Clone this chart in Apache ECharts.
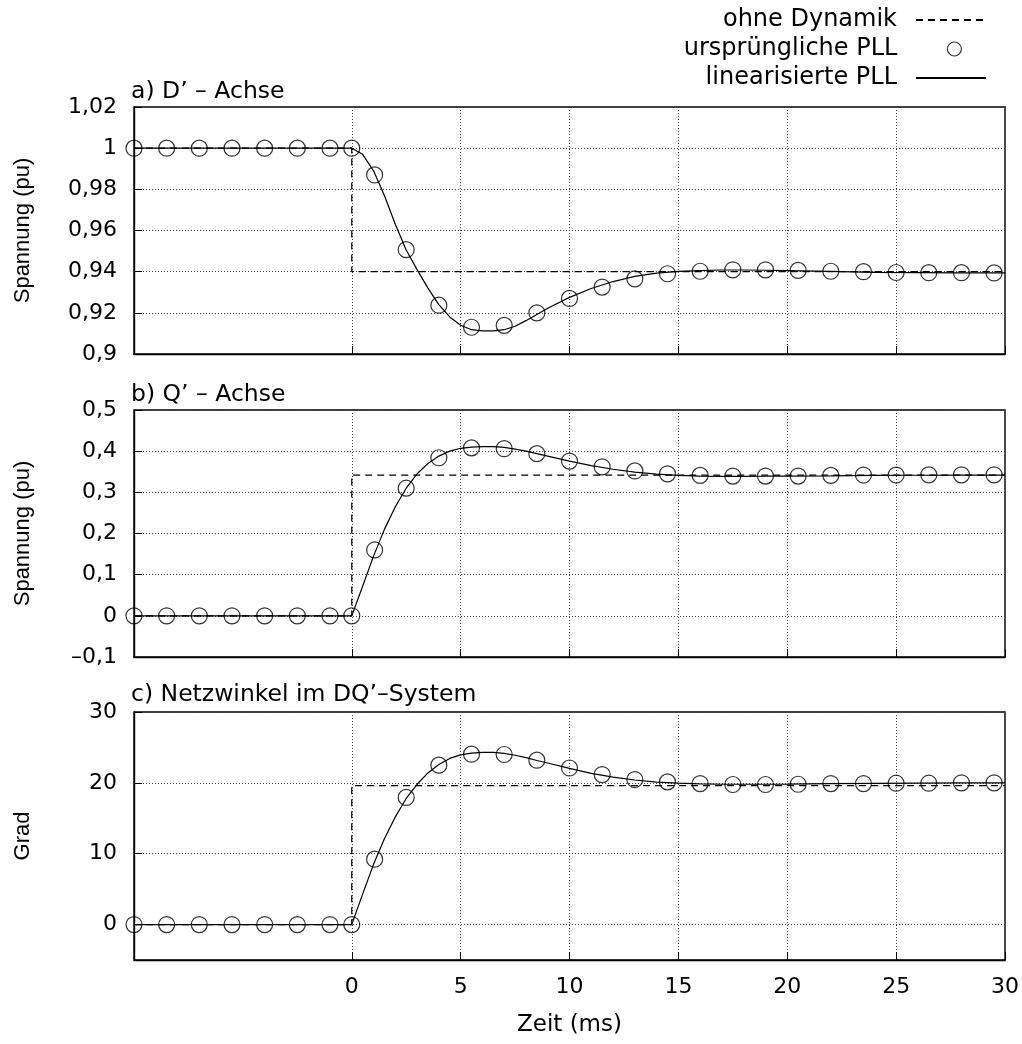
<!DOCTYPE html>
<html>
<head>
<meta charset="utf-8">
<script src="https://cdn.jsdelivr.net/npm/echarts@6/dist/echarts.min.js"></script>
<style>
html,body{margin:0;padding:0;background:#fff;}
#chart{width:1022px;height:1044px;}
</style>
</head>
<body>
<div id="chart"></div>
<script>
// ---------- data ----------
const seriesNames = ['ohne Dynamik', 'ursprüngliche PLL', 'linearisierte PLL'];
const panelTitles = ['a) D’ – Achse', 'b) Q’ – Achse', 'c) Netzwinkel im DQ’–System'];
const yAxisNames = ['Spannung (pu)', 'Spannung (pu)', 'Grad'];
const xAxisName = 'Zeit (ms)';

const xTicks = [0, 5, 10, 15, 20, 25, 30];
const dTicks = [0.9, 0.92, 0.94, 0.96, 0.98, 1, 1.02];
const qTicks = [-0.1, 0, 0.1, 0.2, 0.3, 0.4, 0.5];
const angleTicks = [0, 10, 20, 30];

// "ohne Dynamik" (step)
const timeStep = [-10, 0, 0, 30];
const dStep = [1, 1, 0.94, 0.94];
const qStep = [0, 0, 0.342, 0.342];
const angleStep = [0, 0, 19.6, 19.6];

// "ursprüngliche PLL" (circles)
const timeCircles = [-10, -8.5, -7, -5.5, -4, -2.5, -1, 0, 1.05, 2.5, 4, 5.5, 7, 8.5, 10, 11.5, 13, 14.5, 16, 17.5, 19, 20.5, 22, 23.5, 25, 26.5, 28, 29.5];
const dCircles = [1, 1, 1, 1, 1, 1, 1, 1, 0.987, 0.9507, 0.9237, 0.913, 0.9139, 0.92, 0.927, 0.9325, 0.9365, 0.939, 0.9402, 0.9409, 0.9409, 0.9406, 0.9402, 0.94, 0.9396, 0.9395, 0.9395, 0.9394];
const qCircles = [0, 0, 0, 0, 0, 0, 0, 0, 0.16, 0.31, 0.384, 0.408, 0.406, 0.394, 0.376, 0.362, 0.352, 0.345, 0.341, 0.3395, 0.3395, 0.3395, 0.341, 0.342, 0.342, 0.3425, 0.3425, 0.3425];
const angleCircles = [0, 0, 0, 0, 0, 0, 0, 0, 9.23, 17.94, 22.5, 24.05, 24.0, 23.2, 22.1, 21.17, 20.47, 20.14, 19.9, 19.77, 19.77, 19.8, 19.9, 19.9, 19.95, 19.95, 20.0, 20.0];

// "linearisierte PLL" (solid line)
const timeLine = [-10, 0, 0.5, 1, 1.5, 2, 2.5, 3, 3.5, 4, 4.5, 5, 5.5, 6, 6.5, 7, 7.5, 8, 8.5, 9, 10, 11, 12, 13, 14, 15, 16, 17, 18, 19, 20, 22, 24, 26, 28, 30];
const dLine = [1, 1, 0.997, 0.989, 0.977, 0.963, 0.9505, 0.941, 0.932, 0.924, 0.918, 0.914, 0.9118, 0.9112, 0.9112, 0.9118, 0.9135, 0.9162, 0.9192, 0.9222, 0.9275, 0.9318, 0.9352, 0.9377, 0.9393, 0.9401, 0.9405, 0.9408, 0.9408, 0.9407, 0.9405, 0.9401, 0.9397, 0.9395, 0.9394, 0.9394];
const qLine = [0, 0, 0.072, 0.145, 0.21, 0.265, 0.31, 0.345, 0.37, 0.388, 0.4, 0.407, 0.41, 0.411, 0.411, 0.409, 0.405, 0.4, 0.394, 0.388, 0.376, 0.365, 0.356, 0.349, 0.344, 0.341, 0.3395, 0.339, 0.339, 0.3392, 0.3395, 0.34, 0.341, 0.3415, 0.342, 0.342];
const angleLine = [0, 0, 4.3, 8.5, 12.1, 15.2, 17.8, 19.8, 21.4, 22.6, 23.45, 23.95, 24.2, 24.3, 24.3, 24.15, 23.9, 23.55, 23.15, 22.8, 22.05, 21.35, 20.8, 20.4, 20.1, 19.95, 19.85, 19.8, 19.8, 19.8, 19.82, 19.88, 19.93, 19.97, 20.0, 20.0];

// ---------- build ----------
const zip = (xs, ys) => xs.map((x, i) => [x, ys[i]]);
const fmt = v => {
  let s = String(Math.round(v * 100) / 100).replace('.', ',');
  if (v < 0) s = '–' + s.slice(1);
  return s;
};

const HFONT = 'DejaVu Sans';
const VFONT = 'Liberation Sans';
const FS = 22;
const TFS = 23.5;

const panels = [
  { top: 107, height: 247, min: 0.9, max: 1.02, ticks: dTicks, step: dStep, circ: dCircles, line: dLine, titleTop: 80 },
  { top: 410, height: 247, min: -0.1, max: 0.5, ticks: qTicks, step: qStep, circ: qCircles, line: qLine, titleTop: 383 },
  { top: 712, height: 248, min: -5, max: 30, ticks: angleTicks, step: angleStep, circ: angleCircles, line: angleLine, titleTop: 683 }
];

const grid = [], xAxis = [], yAxis = [], series = [], title = [];
const gridLine = { show: true, lineStyle: { color: '#444', type: [1, 2], width: 1 } };
const circleStyle = { color: 'rgba(0,0,0,0)', borderColor: '#000', borderWidth: 1.2 };

panels.forEach((p, i) => {
  grid.push({ left: 134, right: 17, top: p.top, height: p.height, show: true, borderColor: '#000', borderWidth: 1.4, backgroundColor: 'transparent' });
  title.push({ text: panelTitles[i], left: 131, top: p.titleTop, padding: 0,
    textStyle: { fontFamily: HFONT, fontSize: TFS, fontWeight: 'normal', color: '#000' } });
  const last = i === 2;
  xAxis.push({
    type: 'value', gridIndex: i, min: -10, max: 30,
    axisLine: { show: true, onZero: false, lineStyle: { color: '#000', width: 1.4 } },
    axisTick: { show: true, inside: true, length: 8, customValues: xTicks, lineStyle: { color: '#000' } },
    axisLabel: { show: last, customValues: xTicks, margin: 16, fontFamily: HFONT, fontSize: FS, color: '#000' },
    splitLine: gridLine,
    name: last ? xAxisName : '', nameLocation: 'middle', nameGap: 54,
    nameTextStyle: { fontFamily: HFONT, fontSize: 23, color: '#000' }
  });
  yAxis.push({
    type: 'value', gridIndex: i, min: p.min, max: p.max,
    axisLine: { show: true, onZero: false, lineStyle: { color: '#000', width: 1.4 } },
    axisTick: { show: true, inside: true, length: 8, customValues: p.ticks, lineStyle: { color: '#000' } },
    axisLabel: { customValues: p.ticks, margin: 17, formatter: fmt, fontFamily: HFONT, fontSize: FS, color: '#000' },
    splitLine: gridLine,
    name: yAxisNames[i], nameLocation: 'middle', nameGap: 100, nameRotate: 90,
    nameTextStyle: { fontFamily: VFONT, fontSize: FS, color: '#000' }
  });
  series.push({
    name: seriesNames[0], type: 'line', xAxisIndex: i, yAxisIndex: i, z: 3,
    data: zip(timeStep, p.step), symbol: 'none', animation: false,
    lineStyle: { color: '#000', width: 1.2, type: [7, 5] }, itemStyle: { color: '#000' }
  });
  series.push({
    name: seriesNames[2], type: 'line', xAxisIndex: i, yAxisIndex: i, z: 4,
    data: zip(timeLine, p.line), symbol: 'none', smooth: false, animation: false,
    lineStyle: { color: '#000', width: 1.2 }, itemStyle: { color: '#000' }
  });
  series.push({
    name: seriesNames[1], type: 'scatter', xAxisIndex: i, yAxisIndex: i, z: 5,
    data: zip(timeCircles, p.circ), symbol: 'circle', symbolSize: 16, animation: false,
    itemStyle: circleStyle
  });
});

const legendTops = [8, 37, 66];
const legendRight = [35, 60, 35];
const legendTextPad = [14, 17, 14];
const legend = seriesNames.map((n, k) => ({
  data: [{ name: n }], right: legendRight[k], top: legendTops[k], orient: 'horizontal', align: 'right',
  itemWidth: 70, itemHeight: 14, padding: 0, selectedMode: false,
  itemStyle: k === 1 ? circleStyle : { opacity: 0 },
  textStyle: { fontFamily: HFONT, fontSize: 24, color: '#000', padding: [0, legendTextPad[k], 0, 0] }
}));

const chart = echarts.init(document.getElementById('chart'), null, { renderer: 'canvas' });
chart.setOption({
  backgroundColor: '#fff',
  animation: false,
  title, legend, grid, xAxis, yAxis, series
});
</script>
</body>
</html>
